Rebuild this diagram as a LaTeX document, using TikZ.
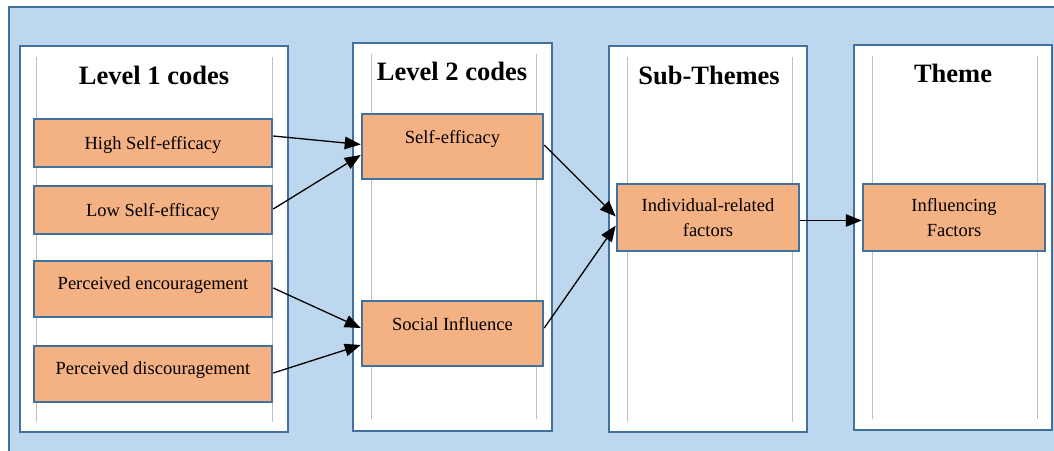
\documentclass[tikz,border=0pt]{standalone}
\usepackage{fontspec}
\setmainfont{Liberation Serif}
\usetikzlibrary{arrows.meta,calc}
\definecolor{bgblue}{HTML}{BDD7EE}
\definecolor{edgeblue}{HTML}{41719C}
\definecolor{codefill}{HTML}{F4B183}
\definecolor{guide}{HTML}{C0C0C0}
\begin{document}
\begin{tikzpicture}[x=1pt,y=-1pt,
  panel/.style={draw=edgeblue, line width=2.7pt, fill=white, inner sep=0pt},
  title/.style={font=\bfseries\fontsize{26.5}{30}\selectfont, inner sep=0pt, text height=18pt, text depth=5pt},
  boxbase/.style={draw=edgeblue, line width=2.5pt, fill=codefill, inner sep=0pt,
    font=\fontsize{18.5}{24}\selectfont, align=center},
  codebox/.style={boxbase, text height=16pt, text depth=3.7pt},
  twoline/.style={boxbase},
  lift/.style={text depth=#1},
  guideline/.style={draw=guide, line width=0.8pt},
  flow/.style={draw=black, line width=1.3pt, -{Triangle[length=16pt,width=12.5pt]}}
]
\useasboundingbox (0,0) rectangle (1054,450);
% background frame
\draw[fill=bgblue, draw=edgeblue, line width=2.7pt] (9,7) rectangle (1070,470);

% column panels
\node[panel, minimum width=268pt, minimum height=386pt] (p1) at (154,239) {};
\node[panel, minimum width=199pt, minimum height=388pt] (p2) at (452.5,237) {};
\node[panel, minimum width=198pt, minimum height=386pt] (p3) at (708,239) {};
\node[panel, minimum width=198pt, minimum height=385pt] (p4) at (953,237.5) {};

% thin guide rules inside each panel
\draw[guideline] (36,57) -- (36,422) (272,57) -- (272,422);
\draw[guideline] (371,54) -- (371,419) (536,54) -- (536,419);
\draw[guideline] (627,57) -- (627,422) (792,57) -- (792,422);
\draw[guideline] (872,56) -- (872,419) (1037,56) -- (1037,419);

% column titles
\node[title] (h1) at (154,77.5) {Level 1 codes};
\node[title] (h2) at (452,73.5) {Level 2 codes};
\node[title] (h3) at (709,77.5) {Sub-Themes};
\node[title] (h4) at (953,75.5) {Theme};

% level 1 codes
\node[codebox, minimum width=238pt, minimum height=48pt] (b1) at (153,143) {High Self-efficacy};
\node[codebox, minimum width=238pt, minimum height=48pt] (b2) at (153,210) {Low Self-efficacy};
\node[codebox, lift=15.7pt, minimum width=238pt, minimum height=56pt] (b3) at (153,289) {Perceived encouragement};
\node[codebox, lift=15.7pt, minimum width=238pt, minimum height=56pt] (b4) at (153,374) {Perceived discouragement};

% level 2 codes
\node[codebox, lift=22.7pt, minimum width=181pt, minimum height=65pt] (s1) at (452.5,146.5) {Self-efficacy};
\node[codebox, lift=22.7pt, minimum width=181pt, minimum height=65pt] (s2) at (452.5,333.5) {Social Influence};

% sub-theme and theme
\node[twoline, minimum width=182pt, minimum height=67pt] (t1) at (708,217.5) {Individual-related\\[1pt]factors};
\node[twoline, minimum width=182pt, minimum height=67pt] (u1) at (954,217.5) {Influencing\\[1pt]Factors};

% connectors
\draw[flow] ($(b1.east)+(0,-7)$) -- ($(s1.west)+(0,-2)$);
\draw[flow] ($(b2.east)+(0,-1)$) -- ($(s1.west)+(0,8.5)$);
\draw[flow] ($(b3.east)+(0,-1)$) -- ($(s2.west)+(0,-5.5)$);
\draw[flow] ($(b4.east)+(0,-1)$) -- ($(s2.west)+(0,11.5)$);
\draw[flow] ($(s1.east)+(0,-1.5)$) -- ($(t1.west)+(0,-1)$);
\draw[flow] ($(s2.east)+(0,-5.5)$) -- ($(t1.west)+(0,8)$);
\draw[flow] ($(t1.east)+(0,3)$) -- ($(u1.west)+(0,3)$);
\end{tikzpicture}
\end{document}
